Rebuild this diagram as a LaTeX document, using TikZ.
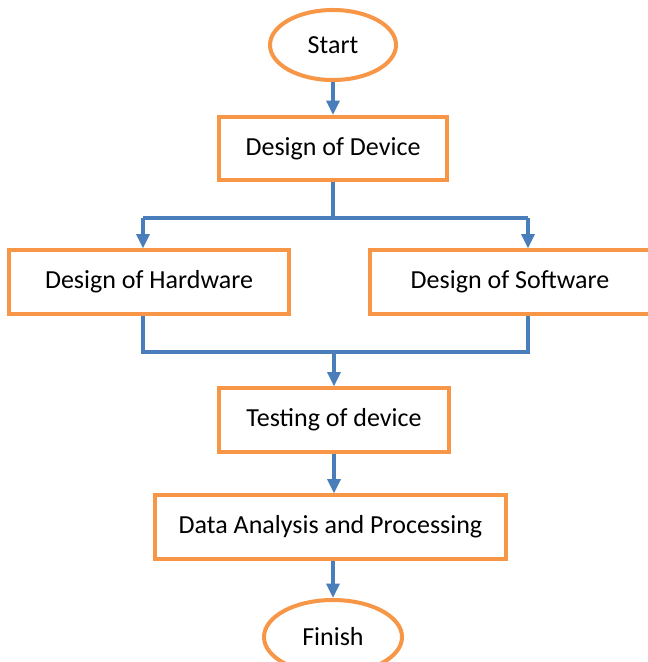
\documentclass[tikz,border=0pt]{standalone}
\usepackage{fontspec}
\setmainfont{Carlito}
\usetikzlibrary{arrows.meta, shapes.geometric}

\definecolor{boxorange}{HTML}{F79646}
\definecolor{flowblue}{HTML}{4A7EBB}

\begin{document}
\begin{tikzpicture}[
  x=0.025cm,
  y=-0.025cm,
  stepbox/.style={draw=boxorange, line width=0.1cm, rectangle, inner sep=0pt, font=\fontsize{18.5}{21}\selectfont},
  term/.style={draw=boxorange, line width=0.1cm, ellipse, inner sep=0pt, font=\fontsize{18.5}{21}\selectfont},
  link/.style={draw=flowblue, line width=0.1cm},
  flow/.style={link, -{Triangle[length=0.36cm, width=0.32cm]}}
  ]
    \useasboundingbox (0,0) rectangle (648,662);

    % terminals
    \node[term, minimum width=3.15cm, minimum height=1.75cm] (start) at (333,45) {Start};
    \node[term, minimum width=3.45cm, minimum height=1.85cm] (finish) at (333,637) {Finish};

    % steps
    \node[stepbox, minimum width=5.7cm, minimum height=1.575cm] (device) at (333,148.5) {Design of Device};
    \node[stepbox, minimum width=7cm, minimum height=1.575cm] (hardware) at (149,282) {Design of Hardware};
    \node[stepbox, minimum width=7cm, minimum height=1.575cm] (software) at (510,282) {Design of Software};
    \node[stepbox, minimum width=5.75cm, minimum height=1.575cm] (testing) at (334,420) {Testing of device};
    \node[stepbox, minimum width=8.775cm, minimum height=1.575cm] (analysis) at (330.5,527) {Data Analysis and Processing};

    % branch and join points
    \coordinate (splitL) at (143,218);
    \coordinate (splitR) at (528,218);
    \coordinate (joinL) at (143,352);
    \coordinate (joinR) at (528,352);

    \draw[flow] (start) -- (device);

    % split into hardware / software
    \draw[link] (device.south) -- (device.south |- splitL);
    \draw[link] (splitL) -- (splitR);
    \draw[flow] (splitL) -- (splitL |- hardware.north);
    \draw[flow] (splitR) -- (splitR |- software.north);

    % join back
    \draw[link] (hardware.south -| joinL) -- (joinL) -- (joinR) -- (software.south -| joinR);
    \draw[flow] (testing.north |- joinL) -- (testing.north);

    \draw[flow] (testing) -- (testing.south |- analysis.north);
    \draw[flow] (analysis.south -| finish) -- (finish);

\end{tikzpicture}
\end{document}
